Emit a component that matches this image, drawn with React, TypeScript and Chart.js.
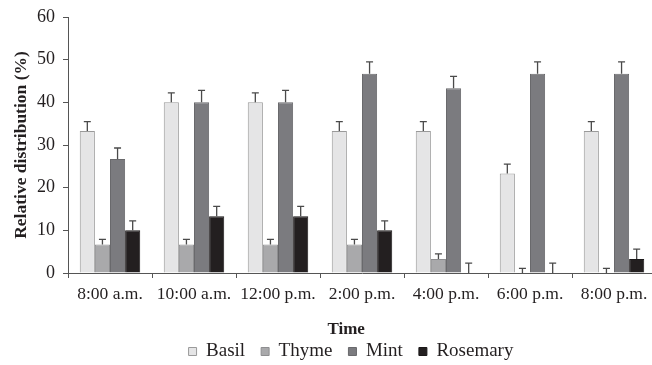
import React, { useEffect, useRef } from "react";
import { Chart, registerables } from "chart.js";

Chart.register(...registerables);

const categories = ["8:00 a.m.", "10:00 a.m.", "12:00 p.m.", "2:00 p.m.", "4:00 p.m.", "6:00 p.m.", "8:00 p.m."];
const seriesNames = ["Basil", "Thyme", "Mint", "Rosemary"];
const basil = [33.3, 40, 40, 33.3, 33.3, 23.3, 33.3];
const thyme = [6.7, 6.7, 6.7, 6.7, 3.3, 0, 0];
const mint = [26.7, 40, 40, 46.7, 43.3, 46.7, 46.7];
const rosemary = [10, 13.3, 13.3, 10, 0, 0, 3.3];
const basilErr = [2.2, 2.2, 2.2, 2.2, 2.2, 2.2, 2.2];
const thymeErr = [1.2, 1.2, 1.2, 1.2, 1.2, 1.1, 1.1];
const mintErr = [2.6, 2.8, 2.8, 2.8, 2.8, 2.8, 2.8];
const rosemaryErr = [2.2, 2.3, 2.3, 2.2, 2.3, 2.3, 2.3];
const yTicks = [0, 10, 20, 30, 40, 50, 60];
const xTitle = "Time";
const yTitle = "Relative distribution (%)";

const fills = ["#e5e5e6", "#a9a9ab", "#7b7b7f", "#231f20"];
const borders = ["#9a9a9a", "#8e8e90", "#69696c", "#1a1718"];
const FONT = "'Liberation Serif', 'DejaVu Serif', serif";
const TEXT = "#231f20";

const errorBars = {
  id: "errorBars",
  afterInit(chart: any) {
    const lg = chart.legend;
    if (lg) {
      const orig = lg.fit.bind(lg);
      lg.fit = function () {
        orig();
        this.height = 39;
      };
    }
  },
  afterLayout(chart: any) {
    const lg = chart.legend;
    if (lg) {
      lg.left += 23;
      lg.right += 23;
    }
  },
  afterDatasetsDraw(chart: any) {
    const ctx = chart.ctx;
    const yScale = chart.scales.y;
    chart.data.datasets.forEach((ds: any, di: number) => {
      const meta = chart.getDatasetMeta(di);
      meta.data.forEach((el: any, i: number) => {
        const v = ds.data[i];
        const e = ds.errors[i];
        const yTop = yScale.getPixelForValue(v);
        const yE = yScale.getPixelForValue(v + e);
        ctx.save();
        ctx.strokeStyle = "#4a4a4a";
        ctx.lineWidth = 1.3;
        ctx.beginPath();
        ctx.moveTo(el.x, yTop);
        ctx.lineTo(el.x, yE);
        ctx.moveTo(el.x - 3.5, yE);
        ctx.lineTo(el.x + 3.5, yE);
        ctx.stroke();
        ctx.restore();
      });
    });
  },
  afterDraw(chart: any) {
    const ctx = chart.ctx;
    const a = chart.chartArea;
    ctx.save();
    ctx.font = `bold 17px ${FONT}`;
    ctx.fillStyle = TEXT;
    ctx.textAlign = "center";
    ctx.textBaseline = "middle";
    ctx.fillText(xTitle, a.left + (a.right - a.left) * 0.473, a.bottom + 57);
    ctx.restore();
  },
};

export default function App() {
  const ref = useRef<HTMLCanvasElement>(null);
  useEffect(() => {
    document.body.style.margin = "0";
    document.body.style.overflow = "hidden";
    const data = [basil, thyme, mint, rosemary];
    const errs = [basilErr, thymeErr, mintErr, rosemaryErr];
    const chart = new Chart(ref.current!, {
      type: "bar",
      data: {
        labels: categories,
        datasets: seriesNames.map((n, i) => ({
          label: n,
          data: data[i],
          errors: errs[i],
          backgroundColor: fills[i],
          borderColor: borders[i],
          borderWidth: 1,
          barPercentage: 1,
          categoryPercentage: 0.72,
        })) as any,
      },
      options: {
        animation: false,
        responsive: false,
        maintainAspectRatio: false,
        layout: { padding: { top: 7, left: 0, right: 4, bottom: 0 } },
        plugins: {
          legend: {
            position: "bottom",
            labels: {
              font: { family: FONT, size: 19 },
              color: TEXT,
              boxWidth: 8,
              boxHeight: 8,
              padding: 16,
            },
          },
          tooltip: { enabled: false },
        },
        scales: {
          x: {
            offset: true,
            afterFit: (s: any) => {
              s.height = 53;
            },
            grid: {
              offset: true,
              drawOnChartArea: false,
              drawTicks: true,
              tickLength: 5,
              color: "#555",
            },
            border: { color: "#555", width: 1 },
            ticks: { font: { family: FONT, size: 17.5 }, color: TEXT, padding: 6 },
          },
          y: {
            min: 0,
            max: 60,
            afterFit: (s: any) => {
              s.width = 68;
            },
            afterBuildTicks: (s: any) => {
              s.ticks = yTicks.map((v) => ({ value: v }));
            },
            grid: { drawOnChartArea: false, tickLength: 5, color: "#555" },
            border: { color: "#555", width: 1 },
            ticks: { font: { family: FONT, size: 18, lineHeight: 1 }, color: TEXT, padding: 8 },
            title: {
              display: true,
              text: yTitle,
              font: { family: FONT, size: 17.5, weight: "bold" },
              color: TEXT,
              padding: { top: 11, bottom: 0 },
            },
          },
        },
      },
      plugins: [errorBars],
    });
    return () => chart.destroy();
  }, []);
  return (
    <div style={{ width: 652, height: 365, overflow: "hidden", position: "relative" }}>
      <canvas ref={ref} width={660} height={365} style={{ display: "block" }} />
    </div>
  );
}
